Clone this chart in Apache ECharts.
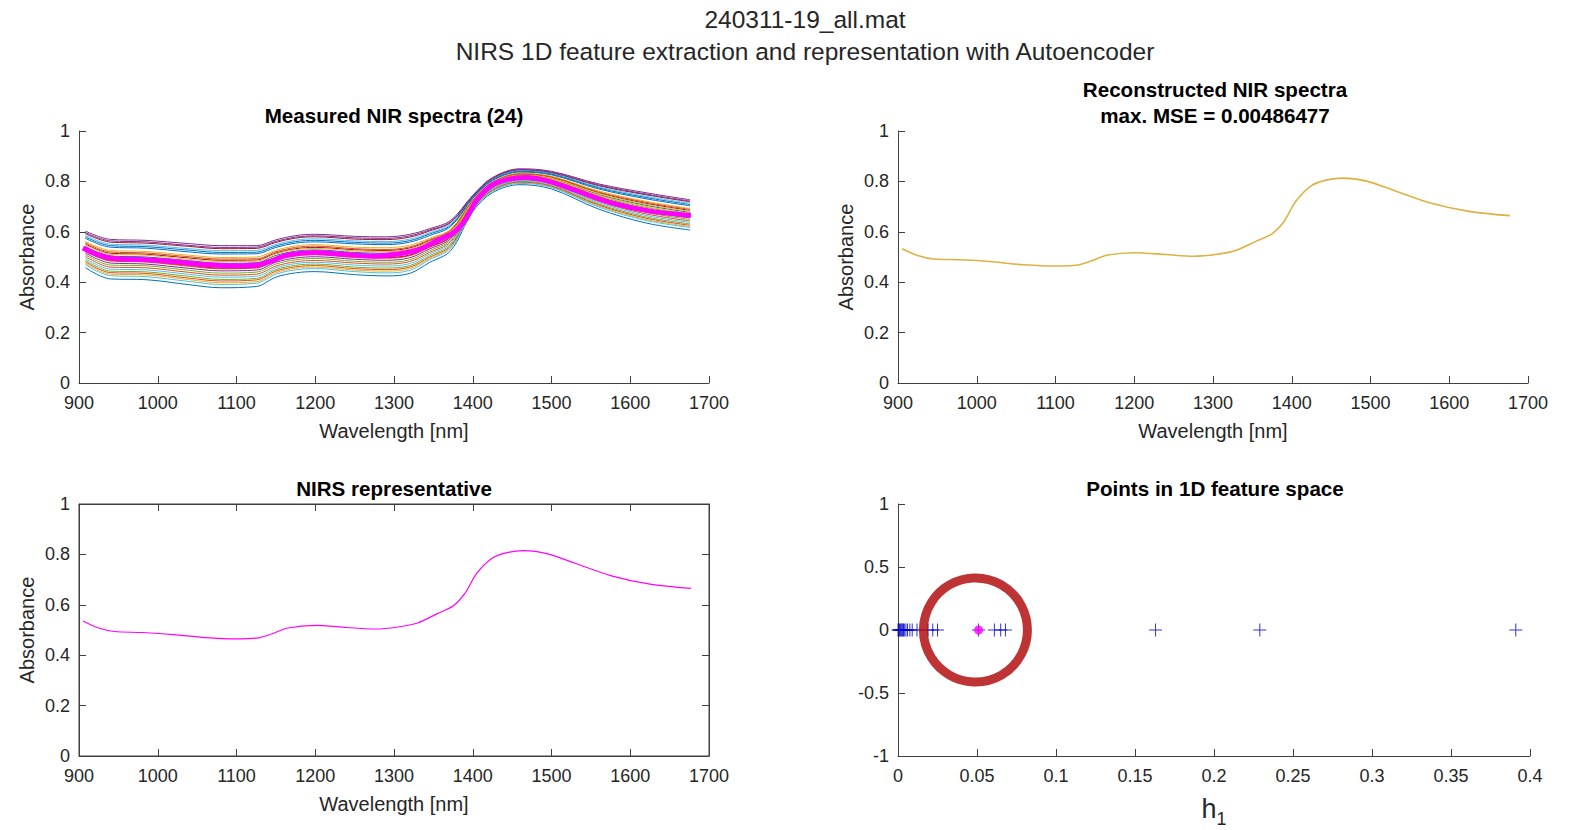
<!DOCTYPE html>
<html><head><meta charset="utf-8">
<script src="https://cdn.jsdelivr.net/npm/echarts@6/dist/echarts.min.js"></script>
<style>html,body{margin:0;padding:0;background:#fff}#c{width:1570px;height:830px}</style>
</head><body><div id="c"></div><script>
// ---------------- data ----------------
const wlMeas = [908, 940, 985, 1040, 1080, 1125, 1150, 1175, 1200, 1250, 1290, 1320, 1345, 1372, 1400, 1425, 1460, 1500, 1560, 1620, 1676];
const s01 = [0.458,0.413,0.410,0.390,0.378,0.383,0.420,0.437,0.442,0.430,0.425,0.435,0.478,0.525,0.680,0.755,0.787,0.770,0.690,0.635,0.607];
const s02 = [0.523,0.484,0.480,0.463,0.453,0.456,0.487,0.504,0.509,0.498,0.495,0.505,0.538,0.579,0.709,0.782,0.815,0.802,0.735,0.689,0.661];
const s03 = [0.475,0.432,0.429,0.410,0.398,0.402,0.438,0.455,0.460,0.448,0.444,0.454,0.494,0.539,0.688,0.762,0.795,0.778,0.702,0.649,0.621];
const s04 = [0.603,0.570,0.566,0.553,0.545,0.545,0.568,0.585,0.590,0.582,0.580,0.590,0.612,0.645,0.745,0.815,0.850,0.840,0.790,0.755,0.727];
const s05 = [0.487,0.444,0.441,0.423,0.411,0.415,0.450,0.467,0.472,0.460,0.456,0.466,0.505,0.549,0.693,0.767,0.800,0.784,0.710,0.659,0.631];
const s06 = [0.586,0.551,0.547,0.533,0.525,0.526,0.550,0.567,0.572,0.564,0.561,0.571,0.596,0.631,0.737,0.808,0.842,0.832,0.778,0.741,0.713];
const s07 = [0.552,0.515,0.511,0.496,0.487,0.488,0.516,0.533,0.538,0.529,0.526,0.536,0.565,0.603,0.722,0.794,0.828,0.816,0.755,0.713,0.685];
const s08 = [0.542,0.504,0.500,0.485,0.475,0.477,0.506,0.523,0.528,0.518,0.515,0.525,0.556,0.595,0.718,0.790,0.824,0.811,0.748,0.705,0.677];
const s09 = [0.502,0.460,0.457,0.439,0.428,0.432,0.464,0.481,0.486,0.476,0.472,0.482,0.518,0.561,0.700,0.773,0.806,0.791,0.720,0.671,0.643];
const s10 = [0.562,0.526,0.522,0.507,0.498,0.500,0.527,0.544,0.549,0.539,0.537,0.547,0.574,0.611,0.727,0.798,0.832,0.820,0.762,0.721,0.693];
const s11 = [0.516,0.476,0.472,0.455,0.445,0.448,0.479,0.496,0.501,0.491,0.487,0.497,0.532,0.573,0.706,0.779,0.812,0.798,0.730,0.683,0.655];
const s12 = [0.533,0.495,0.491,0.475,0.465,0.467,0.497,0.514,0.519,0.509,0.506,0.516,0.548,0.587,0.714,0.786,0.820,0.806,0.742,0.697,0.669];
const s13 = [0.494,0.452,0.449,0.431,0.420,0.424,0.457,0.474,0.479,0.468,0.464,0.474,0.512,0.555,0.696,0.770,0.803,0.788,0.715,0.665,0.637];
const s14 = [0.593,0.559,0.555,0.542,0.533,0.534,0.558,0.575,0.580,0.571,0.569,0.579,0.603,0.637,0.740,0.811,0.846,0.835,0.783,0.747,0.719];
const s15 = [0.574,0.539,0.535,0.520,0.512,0.513,0.538,0.555,0.560,0.552,0.549,0.559,0.585,0.621,0.732,0.803,0.837,0.826,0.770,0.731,0.703];
const s16 = [0.481,0.438,0.435,0.416,0.405,0.409,0.444,0.461,0.466,0.454,0.450,0.460,0.499,0.544,0.690,0.765,0.797,0.781,0.706,0.654,0.626];
const s17 = [0.548,0.510,0.507,0.491,0.482,0.483,0.512,0.529,0.534,0.524,0.521,0.531,0.561,0.599,0.720,0.792,0.826,0.813,0.752,0.709,0.681];
const s18 = [0.597,0.564,0.560,0.546,0.538,0.539,0.562,0.579,0.584,0.576,0.574,0.584,0.607,0.640,0.742,0.813,0.847,0.837,0.786,0.750,0.722];
const s19 = [0.509,0.468,0.465,0.447,0.436,0.440,0.472,0.489,0.494,0.483,0.479,0.489,0.525,0.567,0.703,0.776,0.809,0.795,0.725,0.677,0.649];
const s20 = [0.470,0.426,0.422,0.403,0.391,0.396,0.432,0.449,0.454,0.442,0.437,0.447,0.489,0.535,0.685,0.760,0.792,0.776,0.698,0.645,0.617];
const s21 = [0.526,0.487,0.483,0.467,0.456,0.459,0.490,0.507,0.512,0.501,0.498,0.508,0.541,0.581,0.711,0.783,0.817,0.803,0.737,0.691,0.663];
const s22 = [0.580,0.545,0.541,0.527,0.518,0.519,0.544,0.561,0.566,0.558,0.555,0.565,0.591,0.626,0.735,0.805,0.840,0.829,0.774,0.736,0.708];
const s23 = [0.557,0.520,0.516,0.501,0.492,0.493,0.521,0.538,0.543,0.533,0.530,0.540,0.569,0.607,0.724,0.796,0.830,0.818,0.758,0.717,0.689];
const s24 = [0.538,0.499,0.496,0.480,0.470,0.472,0.501,0.518,0.523,0.514,0.510,0.520,0.552,0.591,0.716,0.788,0.822,0.809,0.745,0.701,0.673];
const measured = [s01,s02,s03,s04,s05,s06,s07,s08,s09,s10,s11,s12,s13,s14,s15,s16,s17,s18,s19,s20,s21,s22,s23,s24];

const wlRep = [905, 925, 945, 980, 1020, 1060, 1100, 1128, 1145, 1165, 1200, 1240, 1275, 1305, 1330, 1355, 1375, 1390, 1405, 1425, 1445, 1465, 1495, 1530, 1575, 1625, 1677];
const representative = [0.536,0.508,0.494,0.490,0.482,0.470,0.465,0.469,0.485,0.508,0.518,0.510,0.504,0.512,0.528,0.565,0.595,0.645,0.725,0.786,0.808,0.815,0.802,0.765,0.716,0.682,0.665];
const reconstructed = [0.533,0.506,0.492,0.489,0.481,0.469,0.464,0.468,0.484,0.507,0.517,0.510,0.503,0.511,0.527,0.563,0.592,0.640,0.720,0.783,0.806,0.813,0.801,0.764,0.715,0.681,0.664];

const h1 = [0, 0.0005, 0.001, 0.0015, 0.002, 0.0025, 0.003, 0.0035, 0.004, 0.005, 0.006, 0.0075, 0.009, 0.012, 0.019, 0.022, 0.025, 0.051, 0.061, 0.065, 0.068, 0.163, 0.229, 0.391];
const repH1 = 0.051;
const circleCenter = [0.049, 0];

const wlAxis = [900, 1700, 100];
const absAxis = [0, 1, 0.2];
const h1Axis = [0, 0.4, 0.05];
const featAxis = [-1, 1, 0.5];

// ---------------- style ----------------
const FONT = '"Liberation Sans", Arial, Helvetica, sans-serif';
const TXT = '#262626';
const AX = '#404040';
const palette = ['#0072BD','#D95319','#EDB120','#7E2F8E','#77AC30','#4DBEEE','#A2142F'];
const plainNum = v => String(+v.toFixed(4));

function xAx(grid, r, name, extra) {
  return Object.assign({
    type: 'value', gridIndex: grid, min: r[0], max: r[1], interval: r[2],
    name: name, nameLocation: 'middle', nameGap: 38,
    nameTextStyle: {fontFamily: FONT, fontSize: 20, color: TXT},
    axisLine: {show: true, onZero: false, lineStyle: {color: AX, width: 1}},
    axisTick: {show: true, inside: true, length: 7, lineStyle: {color: AX}},
    axisLabel: {fontFamily: FONT, fontSize: 18, color: TXT, margin: 11, formatter: plainNum},
    splitLine: {show: false}
  }, extra || {});
}
function yAx(grid, r, name, extra) {
  return Object.assign({
    type: 'value', gridIndex: grid, min: r[0], max: r[1], interval: r[2],
    name: name, nameLocation: 'middle', nameGap: 42,
    nameTextStyle: {fontFamily: FONT, fontSize: 20, color: TXT},
    axisLine: {show: true, onZero: false, lineStyle: {color: AX, width: 1}},
    axisTick: {show: true, inside: true, length: 7, lineStyle: {color: AX}},
    axisLabel: {fontFamily: FONT, fontSize: 18, color: TXT, margin: 9, formatter: plainNum},
    splitLine: {show: false}
  }, extra || {});
}

const series = [];
measured.forEach((s, i) => {
  series.push({
    type: 'line', xAxisIndex: 0, yAxisIndex: 0, symbol: 'none', smooth: 0.35, silent: true,
    data: wlMeas.map((w, j) => [w, s[j]]),
    lineStyle: {width: 1, color: palette[i % 7]}, z: 2
  });
});
series.push({
  type: 'line', xAxisIndex: 0, yAxisIndex: 0, symbol: 'none', smooth: 0.3, silent: true,
  data: wlRep.map((w, j) => [w, representative[j]]),
  lineStyle: {width: 5, color: '#FF00FF'}, z: 3
});
series.push({
  type: 'line', xAxisIndex: 1, yAxisIndex: 1, symbol: 'none', smooth: 0.3, silent: true,
  data: wlRep.map((w, j) => [w, reconstructed[j]]),
  lineStyle: {width: 1.6, color: '#DDB144'}, z: 2
});
series.push({
  type: 'line', xAxisIndex: 2, yAxisIndex: 2, symbol: 'none', smooth: 0.3, silent: true,
  data: wlRep.map((w, j) => [w, representative[j]]),
  lineStyle: {width: 1.2, color: '#FF00FF'}, z: 2
});
series.push({
  type: 'scatter', xAxisIndex: 4, yAxisIndex: 4, silent: true,
  data: h1.map(v => [v, 0]),
  symbol: 'path://M0,6h13v1H0z M6,0h1v13H6z', symbolSize: 13,
  itemStyle: {color: '#0000C8'}, z: 2
});
series.push({
  type: 'scatter', xAxisIndex: 4, yAxisIndex: 4, silent: true,
  data: [[repH1, 0]], symbol: 'circle', symbolSize: 9,
  itemStyle: {color: '#FF00FF'}, z: 3
});
series.push({
  type: 'scatter', xAxisIndex: 4, yAxisIndex: 4, silent: true,
  data: [circleCenter], symbol: 'circle', symbolSize: 104,
  itemStyle: {color: 'rgba(0,0,0,0)', borderColor: '#AE0000', borderWidth: 9}, z: 4
});

const tStyleMain = {fontFamily: FONT, fontSize: 24.5, fontWeight: 'normal', color: TXT, lineHeight: 32};
const tStyleSub = {fontFamily: FONT, fontSize: 20.6, fontWeight: 'bold', color: '#000', lineHeight: 26};

const option = {
  animation: false,
  backgroundColor: '#fff',
  title: [
    {text: '240311-19_all.mat\nNIRS 1D feature extraction and representation with Autoencoder', left: 805, top: 3, padding: 0, textAlign: 'center', textStyle: tStyleMain},
    {text: 'Measured NIR spectra (24)', left: 394, top: 102, padding: 0, textAlign: 'center', textStyle: tStyleSub},
    {text: 'Reconstructed NIR spectra\nmax. MSE = 0.00486477', left: 1215, top: 76, padding: 0, textAlign: 'center', textStyle: tStyleSub},
    {text: 'NIRS representative', left: 394, top: 475, padding: 0, textAlign: 'center', textStyle: tStyleSub},
    {text: 'Points in 1D feature space', left: 1215, top: 475, padding: 0, textAlign: 'center', textStyle: tStyleSub}
  ],
  grid: [
    {left: 79, top: 131, width: 630, height: 252},
    {left: 898, top: 131, width: 630, height: 252},
    {left: 79, top: 504, width: 630, height: 252, show: true, borderColor: AX, borderWidth: 1, backgroundColor: 'transparent'},
    {left: 898, top: 504, width: 632, height: 252}
  ],
  xAxis: [
    xAx(0, wlAxis, 'Wavelength [nm]'),
    xAx(1, wlAxis, 'Wavelength [nm]'),
    xAx(2, wlAxis, 'Wavelength [nm]'),
    xAx(2, wlAxis, '', {position: 'top', axisLabel: {show: false}}),
    xAx(3, h1Axis, '{h|h}{s|1}', {nameGap: 38, nameTextStyle: {color: TXT, fontFamily: FONT, rich: {
      h: {fontFamily: FONT, fontSize: 27, color: TXT, lineHeight: 30},
      s: {fontFamily: FONT, fontSize: 18, color: TXT, lineHeight: 30, padding: [20, 0, 0, 0]}
    }}})
  ],
  yAxis: [
    yAx(0, absAxis, 'Absorbance'),
    yAx(1, absAxis, 'Absorbance'),
    yAx(2, absAxis, 'Absorbance'),
    yAx(2, absAxis, '', {position: 'right', axisLabel: {show: false}}),
    yAx(3, featAxis, '')
  ],
  series: series
};

const chart = echarts.init(document.getElementById('c'), null, {renderer: 'svg', width: 1570, height: 830});
chart.setOption(option);
</script></body></html>
